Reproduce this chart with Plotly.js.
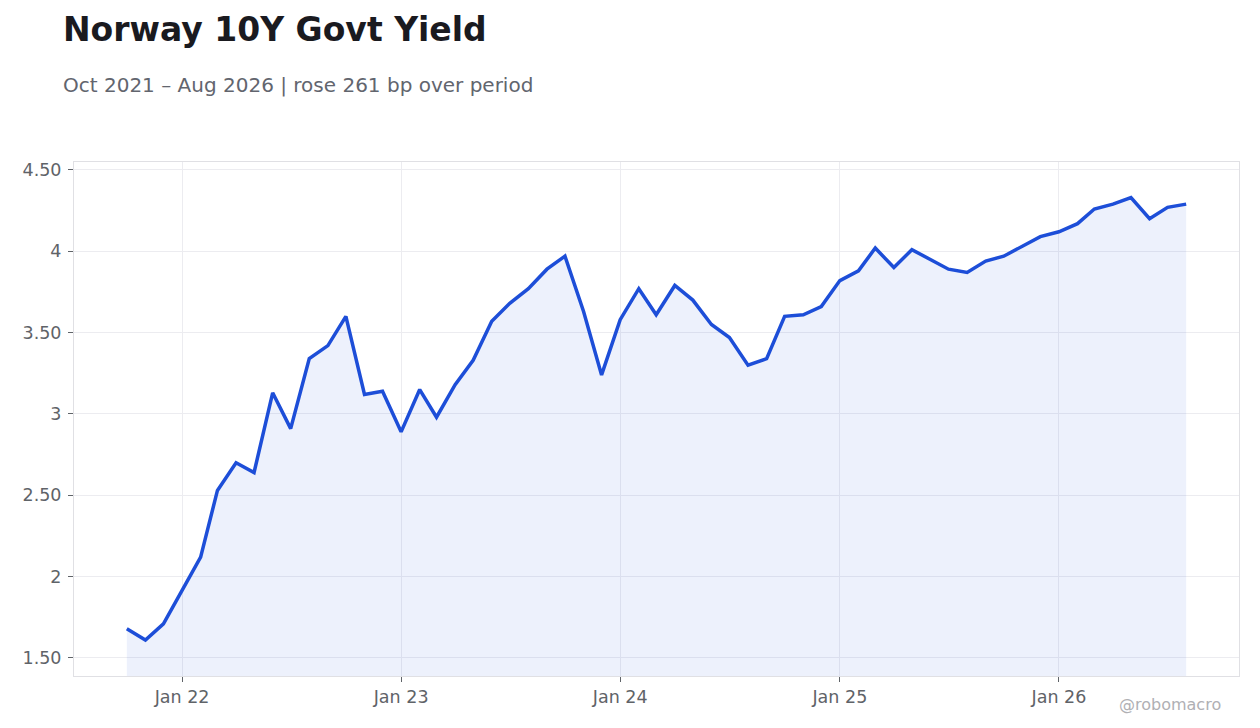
<!DOCTYPE html>
<html>
<head>
<meta charset="utf-8">
<script src="https://cdn.plot.ly/plotly-3.0.1.min.js"></script>
<style>
  html, body { margin: 0; padding: 0; background: #ffffff; }
  #chart { width: 1260px; height: 728px; }
</style>
</head>
<body>
<div id="chart"></div>
<script>
// Monthly observations, Oct 2021 - Aug 2026
const dates = [
  "2021-10-01","2021-11-01","2021-12-01",
  "2022-01-01","2022-02-01","2022-03-01","2022-04-01","2022-05-01","2022-06-01",
  "2022-07-01","2022-08-01","2022-09-01","2022-10-01","2022-11-01","2022-12-01",
  "2023-01-01","2023-02-01","2023-03-01","2023-04-01","2023-05-01","2023-06-01",
  "2023-07-01","2023-08-01","2023-09-01","2023-10-01","2023-11-01","2023-12-01",
  "2024-01-01","2024-02-01","2024-03-01","2024-04-01","2024-05-01","2024-06-01",
  "2024-07-01","2024-08-01","2024-09-01","2024-10-01","2024-11-01","2024-12-01",
  "2025-01-01","2025-02-01","2025-03-01","2025-04-01","2025-05-01","2025-06-01",
  "2025-07-01","2025-08-01","2025-09-01","2025-10-01","2025-11-01","2025-12-01",
  "2026-01-01","2026-02-01","2026-03-01","2026-04-01","2026-05-01","2026-06-01",
  "2026-07-01","2026-08-01"
];
const yields = [
  1.68, 1.61, 1.71,
  1.92, 2.12, 2.53, 2.70, 2.64, 3.13, 2.91, 3.34, 3.42, 3.60, 3.12, 3.14,
  2.89, 3.15, 2.98, 3.18, 3.33, 3.57, 3.68, 3.77, 3.89, 3.97, 3.63, 3.24,
  3.58, 3.77, 3.61, 3.79, 3.70, 3.55, 3.47, 3.30, 3.34, 3.60, 3.61, 3.66,
  3.82, 3.88, 4.02, 3.90, 4.01, 3.95, 3.89, 3.87, 3.94, 3.97, 4.03, 4.09,
  4.12, 4.17, 4.26, 4.29, 4.33, 4.20, 4.27, 4.29
];
const yTickVals = [1.5, 2, 2.5, 3, 3.5, 4, 4.5];
const yTickText = ["1.50", "2", "2.50", "3", "3.50", "4", "4.50"];

const titleText = "Norway 10Y Govt Yield";
const subtitleText = "Oct 2021 – Aug 2026 | rose 261 bp over period";
const watermarkText = "@robomacro";

const trace = {
  x: dates,
  y: yields,
  type: "scatter",
  mode: "lines",
  line: { color: "#1d4ed8", width: 3.5 },
  fill: "tozeroy",
  fillcolor: "rgba(29,78,216,0.08)",
  hoverinfo: "x+y"
};

const FONT = "DejaVu Sans, Verdana, sans-serif";

const layout = {
  width: 1260,
  height: 728,
  margin: { l: 74, r: 21, t: 162, b: 52, pad: 0 },
  paper_bgcolor: "#ffffff",
  plot_bgcolor: "#ffffff",
  font: { family: FONT, size: 17.5, color: "#5f6368" },
  showlegend: false,
  xaxis: {
    type: "date",
    range: ["2021-07-05", "2026-10-28"],
    tick0: "2022-01-01",
    dtick: "M12",
    tickformat: "%b %y",
    ticks: "outside",
    ticklen: 5,
    tickwidth: 1,
    tickcolor: "#5f6368",
    tickfont: { family: FONT, size: 17.5, color: "#5f6368" },
    showgrid: true,
    gridcolor: "#ececf0",
    gridwidth: 1,
    showline: true,
    linecolor: "#e0e0e4",
    linewidth: 1,
    mirror: true,
    zeroline: false
  },
  yaxis: {
    range: [1.389, 4.549],
    tickmode: "array",
    tickvals: yTickVals,
    ticktext: yTickText,
    ticks: "outside",
    ticklen: 5,
    tickwidth: 1,
    tickcolor: "#5f6368",
    ticklabelstandoff: 3,
    tickfont: { family: FONT, size: 17.5, color: "#5f6368" },
    showgrid: true,
    gridcolor: "#ececf0",
    gridwidth: 1,
    showline: true,
    linecolor: "#e0e0e4",
    linewidth: 1,
    mirror: true,
    zeroline: false
  },
  annotations: [
    {
      text: "<b>" + titleText + "</b>",
      xref: "paper", yref: "paper",
      x: -0.0112, y: 1.2587,
      xanchor: "left", yanchor: "middle",
      showarrow: false,
      font: { family: FONT, size: 33, color: "#1a1a1f" }
    },
    {
      text: subtitleText,
      xref: "paper", yref: "paper",
      x: -0.0112, y: 1.1498,
      xanchor: "left", yanchor: "middle",
      showarrow: false,
      font: { family: FONT, size: 20, color: "#62656e" }
    },
    {
      text: watermarkText,
      xref: "paper", yref: "paper",
      x: 0.9862, y: -0.0564,
      xanchor: "right", yanchor: "middle",
      showarrow: false,
      font: { family: FONT, size: 16, color: "#b0b0b4" }
    }
  ]
};

Plotly.newPlot("chart", [trace], layout, { displayModeBar: false, staticPlot: true });
</script>
</body>
</html>
